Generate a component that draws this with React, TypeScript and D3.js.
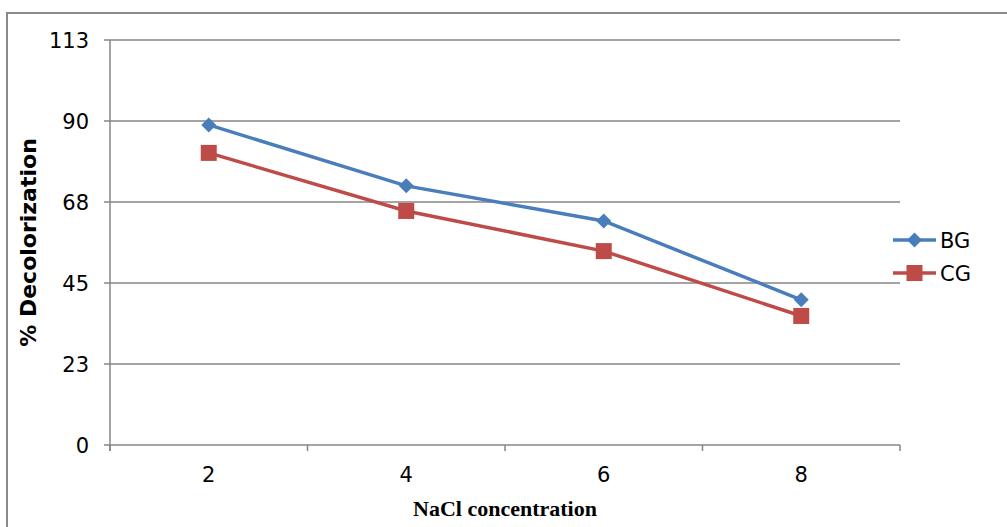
import React from "react";
import * as d3 from "d3";

const categories = ["2", "4", "6", "8"];
const bgValues = [89.3, 72.3, 62.5, 40.5];
const cgValues = [81.5, 65.3, 54.1, 36.0];
const yTicks = [0, 22.6, 45.2, 67.8, 90.4, 113];
const yTickLabels = ["0", "23", "45", "68", "90", "113"];

const W = 1007, H = 527;
const left = 110, right = 900, top = 40, bottom = 445;

export default function App() {
  const x = d3.scaleBand<string>().domain(categories).range([left, right]);
  const y = d3.scaleLinear().domain([0, 113]).range([bottom, top]);
  const cx = (c: string) => (x(c) as number) + x.bandwidth() / 2;
  const line = d3.line<[number, number]>().x(d => d[0]).y(d => d[1]);
  const bgPts = categories.map((c, i) => [cx(c), y(bgValues[i])] as [number, number]);
  const cgPts = categories.map((c, i) => [cx(c), y(cgValues[i])] as [number, number]);
  const blue = "#4A7EBB", red = "#BE4B48", grid = "#868686";
  const xBounds = [left, ...categories.map(c => (x(c) as number) + x.bandwidth())];
  const diamond = (px: number, py: number, s = 7.5) =>
    `M${px},${py - s}L${px + s},${py}L${px},${py + s}L${px - s},${py}Z`;
  const sans = "'DejaVu Sans', Verdana, sans-serif";

  return (
    <svg width={W} height={H} style={{ position: "absolute", left: 0, top: 0, background: "#fff" }}>
      <rect x={7} y={13} width={1010} height={530} fill="#fff" stroke="#8a8a8a" strokeWidth={2} />
      {yTicks.map((t, i) => (
        <g key={i}>
          <line x1={left - 6} x2={right} y1={y(t)} y2={y(t)} stroke={grid} strokeWidth={1.5} />
          <text x={89} y={y(t)} dy="0.36em" textAnchor="end" fontFamily={sans} fontSize={21} fill="#000">
            {yTickLabels[i]}
          </text>
        </g>
      ))}
      <line x1={left} x2={left} y1={top} y2={bottom + 6} stroke={grid} strokeWidth={1.5} />
      {xBounds.map((b, i) => (
        <line key={i} x1={b} x2={b} y1={bottom} y2={bottom + 6} stroke={grid} strokeWidth={1.5} />
      ))}
      {categories.map(c => (
        <text key={c} x={cx(c)} y={482} textAnchor="middle" fontFamily={sans} fontSize={21} fill="#000">{c}</text>
      ))}
      <text x={505} y={516} textAnchor="middle" fontFamily="'Liberation Serif', 'Times New Roman', serif" fontWeight="bold" fontSize={22} fill="#000">
        NaCl concentration
      </text>
      <text transform={`translate(36,${(top + bottom) / 2}) rotate(-90)`} textAnchor="middle" fontFamily={sans} fontWeight="bold" fontSize={22} fill="#000">
        % Decolorization
      </text>
      <path d={line(bgPts) || ""} fill="none" stroke={blue} strokeWidth={3.5} />
      <path d={line(cgPts) || ""} fill="none" stroke={red} strokeWidth={3.5} />
      {bgPts.map((p, i) => <path key={i} d={diamond(p[0], p[1])} fill={blue} />)}
      {cgPts.map((p, i) => <rect key={i} x={p[0] - 8} y={p[1] - 8} width={16} height={16} fill={red} />)}
      <line x1={893} x2={936} y1={240} y2={240} stroke={blue} strokeWidth={3.5} />
      <path d={diamond(914.5, 240)} fill={blue} />
      <text x={940} y={240} dy="0.36em" fontFamily={sans} fontSize={21} fill="#000">BG</text>
      <line x1={893} x2={936} y1={273} y2={273} stroke={red} strokeWidth={3.5} />
      <rect x={906.5} y={265} width={16} height={16} fill={red} />
      <text x={940} y={273} dy="0.36em" fontFamily={sans} fontSize={21} fill="#000">CG</text>
    </svg>
  );
}
